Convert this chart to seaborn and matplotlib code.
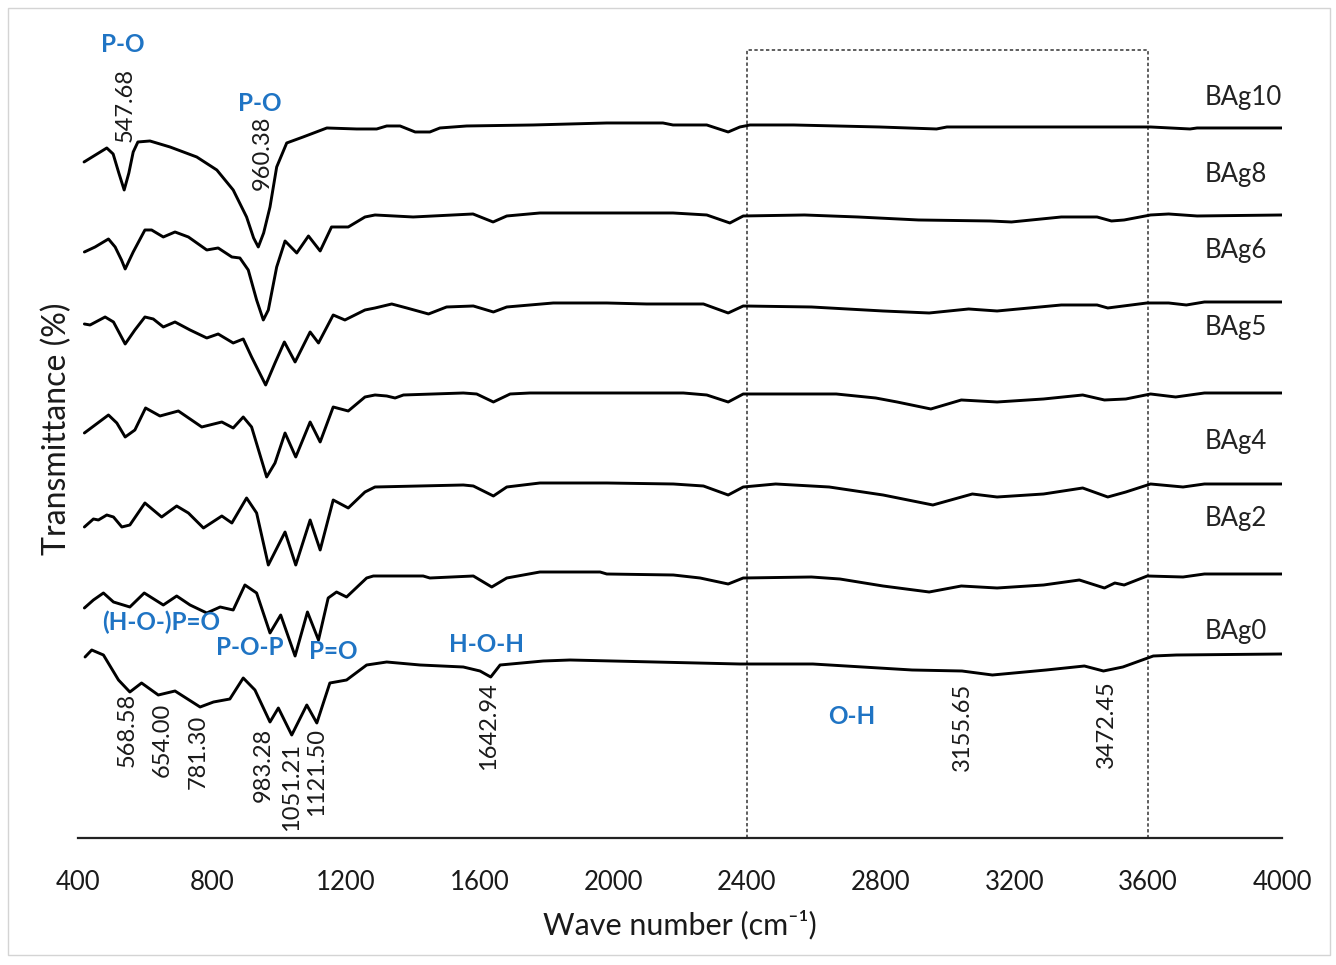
import matplotlib
matplotlib.use("Agg")
import matplotlib.pyplot as plt
from matplotlib.patches import Rectangle
import seaborn as sns
import pandas as pd

# ---------------- data (wavenumber cm-1, transmittance a.u., offset spectra) ----------------
samples = ["BAg10", "BAg8", "BAg6", "BAg5", "BAg4", "BAg2", "BAg0"]

bag10_wn = [418, 486, 505, 522, 538, 552, 565, 579, 615, 675, 755, 815, 864, 904, 925, 939, 955, 974, 994,
            1024, 1073, 1144, 1233, 1293, 1323, 1363, 1408, 1452, 1482, 1562, 1761, 1981, 2070, 2149,
            2179, 2280, 2344, 2379, 2409, 2540, 2796, 2967, 2998, 3266, 3607, 3725, 3746, 4000]
bag10_t = [676, 690, 684, 665, 648, 665, 686, 696, 697, 691, 681, 668, 648, 621, 600, 591, 605, 631, 671,
           695, 701, 710, 709, 709, 712, 712, 706, 706, 710, 712, 713, 715, 715, 715,
           713, 713, 706, 711, 713, 713, 711, 709, 711, 711, 711, 709, 710, 710]

bag8_wn = [419, 451, 491, 511, 530, 541, 565, 600, 620, 655, 690, 730, 785, 819, 860, 884, 909, 934, 954,
           969, 994, 1019, 1054, 1089, 1124, 1158, 1208, 1258, 1288, 1402, 1581, 1641, 1682, 1781, 2179,
           2280, 2349, 2389, 2572, 2732, 2913, 3127, 3191, 3340, 3447, 3490, 3528, 3607, 3661, 3746, 4000]
bag8_t = [586, 591, 599, 591, 578, 569, 586, 608, 608, 601, 606, 601, 588, 590, 581, 580, 568, 538, 518,
          528, 571, 597, 585, 602, 587, 611, 611, 621, 623, 621, 624, 616, 622, 625, 625,
          623, 615, 622, 623, 621, 618, 617, 616, 621, 621, 617, 618, 623, 624, 622, 623]

bag6_wn = [419, 436, 481, 506, 541, 570, 600, 625, 655, 690, 735, 785, 819, 864, 894, 919, 961, 989, 1017,
           1049, 1094, 1119, 1163, 1198, 1258, 1288, 1338, 1383, 1448, 1502, 1582, 1642, 1682, 1821, 1981,
           2100, 2270, 2344, 2389, 2593, 2807, 2945, 3063, 3148, 3340, 3447, 3479, 3596, 3661, 3714, 3768, 4000]
bag6_t = [514, 513, 521, 516, 494, 508, 521, 519, 511, 516, 508, 500, 504, 495, 499, 481, 453, 475, 496,
          476, 506, 495, 523, 518, 528, 530, 534, 530, 524, 531, 532, 526, 531, 535, 535,
          534, 534, 525, 532, 531, 527, 525, 529, 527, 533, 533, 530, 535, 535, 533, 536, 536]

bag5_wn = [419, 451, 491, 516, 541, 570, 602, 645, 700, 770, 830, 864, 894, 919, 964, 989, 1019, 1051,
           1094, 1124, 1163, 1208, 1258, 1288, 1323, 1348, 1373, 1552, 1592, 1642, 1692, 1751, 2210, 2280,
           2344, 2389, 2667, 2785, 2849, 2950, 3041, 3148, 3287, 3404, 3469, 3533, 3607, 3682, 3768, 4000]
bag5_t = [405, 413, 423, 415, 401, 408, 430, 422, 427, 411, 416, 410, 421, 411, 361, 375, 405, 381,
          416, 396, 431, 427, 441, 443, 442, 440, 443, 445, 444, 436, 444, 445, 445, 443,
          436, 444, 444, 440, 436, 429, 438, 436, 439, 443, 438, 439, 444, 441, 445, 445]

bag4_wn = [419, 446, 461, 486, 506, 531, 555, 600, 650, 695, 730, 775, 830, 860, 904, 934, 969, 1019, 1051,
           1094, 1124, 1163, 1208, 1258, 1288, 1552, 1582, 1642, 1682, 1781, 1981, 2180, 2270, 2344, 2389,
           2486, 2646, 2807, 2956, 3074, 3148, 3287, 3404, 3479, 3533, 3607, 3704, 3768, 4000]
bag4_t = [311, 319, 318, 323, 321, 311, 313, 335, 321, 332, 325, 310, 322, 315, 340, 325, 273, 306, 273,
          318, 288, 338, 330, 346, 351, 353, 352, 342, 351, 355, 355, 354, 352, 343, 351,
          354, 351, 343, 333, 344, 341, 344, 350, 341, 346, 354, 351, 354, 354]

bag2_wn = [419, 446, 476, 506, 555, 598, 655, 695, 735, 785, 825, 864, 899, 934, 974, 1006, 1049, 1086,
           1119, 1148, 1173, 1203, 1263, 1283, 1432, 1452, 1582, 1637, 1682, 1781, 1961, 1981, 2180, 2260,
           2344, 2389, 2593, 2678, 2807, 2945, 3041, 3148, 3287, 3394, 3469, 3500, 3528, 3597, 3704, 3768, 4000]
bag2_t = [230, 238, 245, 236, 231, 245, 233, 242, 233, 225, 231, 228, 253, 245, 205, 223, 182, 226,
          198, 240, 246, 241, 260, 262, 262, 260, 262, 251, 260, 266, 266, 264, 263, 260,
          254, 260, 261, 259, 252, 246, 252, 250, 253, 258, 250, 255, 253, 262, 261, 264, 264]

bag0_wn = [421, 441, 476, 521, 555, 590, 640, 690, 765, 805, 854, 894, 929, 974, 999, 1039, 1084, 1114,
           1153, 1203, 1263, 1323, 1423, 1552, 1602, 1634, 1662, 1791, 1871, 2379, 2597, 2746, 2894, 3043,
           3134, 3295, 3409, 3466, 3524, 3615, 3684, 4000]
bag0_t = [181, 188, 183, 158, 146, 155, 143, 147, 131, 136, 139, 160, 148, 116, 130, 103, 133, 115,
          155, 158, 173, 176, 173, 171, 167, 161, 173, 177, 178, 174, 174, 171, 168, 167,
          163, 168, 172, 167, 171, 182, 183, 184]

# sample name labels
sample_label_x = 3770
sample_label_y = [740, 663, 587, 510, 396, 319, 206]

# band assignment labels (blue)
band_text = ["P-O", "P-O", "(H-O-)P=O", "P-O-P", "P=O", "H-O-H", "O-H"]
band_x = [535, 944, 648, 914, 1162, 1620, 2714]
band_y = [793, 734, 216, 190, 186, 193, 122]

# peak position labels above the top spectrum (anchored at their lower end)
top_peak_text = ["547.68", "960.38"]
top_peak_x = [540, 950]
top_peak_y = [696, 648]

# peak position labels below the bottom spectrum (anchored at their upper end)
low_peak_text = ["568.58", "654.00", "781.30", "983.28", "1051.21", "1121.50", "1642.94", "3155.65", "3472.45"]
low_peak_x = [548, 653, 760, 954, 1037, 1113, 1627, 3043, 3474]
low_peak_y = [145, 135, 123, 110, 95, 110, 156, 155, 158]

# O-H region box
box_x = [2400, 3600]
box_top = 788

x_ticks = [400, 800, 1200, 1600, 2000, 2400, 2800, 3200, 3600, 4000]

# ---------------- build table ----------------
series_wn = [bag10_wn, bag8_wn, bag6_wn, bag5_wn, bag4_wn, bag2_wn, bag0_wn]
series_t = [bag10_t, bag8_t, bag6_t, bag5_t, bag4_t, bag2_t, bag0_t]
frames = []
for name, w, t in zip(samples, series_wn, series_t):
    frames.append(pd.DataFrame({"sample": name, "wn": w, "T": t}))
df = pd.concat(frames, ignore_index=True)

# ---------------- style ----------------
sns.set_theme(style="white")
plt.rcParams["font.family"] = ["Lato", "DejaVu Sans"]

fig = plt.figure(figsize=(13.36, 9.65), dpi=100)
ax = fig.add_axes([0.0584, 0.1316, 0.9012, 0.8477])

sns.lineplot(data=df, x="wn", y="T", hue="sample", palette={s: "black" for s in samples},
             estimator=None, sort=False, legend=False, linewidth=2.1, ax=ax)
for ln in ax.get_lines():
    ln.set_solid_joinstyle("round")
    ln.set_solid_capstyle("round")

ax.set_xlim(400, 4000)
ax.set_ylim(0, 818)
ax.set_xticks(x_ticks)
ax.set_xticklabels([str(v) for v in x_ticks])
ax.set_yticks([])
for s in ["left", "top", "right"]:
    ax.spines[s].set_visible(False)
ax.spines["bottom"].set_linewidth(1.6)
ax.spines["bottom"].set_color("#222222")
ax.tick_params(axis="x", direction="inout", length=16, width=1.4, color="#222222",
               labelsize=18.5, labelcolor="#1a1a1a", pad=15)

ax.set_xlabel("Wave number (cm\u207b\u00b9)", fontsize=22, color="#1a1a1a", labelpad=11)
ax.set_ylabel("Transmittance (%)", fontsize=23, color="#1a1a1a", labelpad=4)

# dashed O-H region box
ax.plot([box_x[0], box_x[0], box_x[1], box_x[1]], [0, box_top, box_top, 0],
        linestyle=(0, (2.2, 1.6)), color="#333333", linewidth=1.1, zorder=1)

# sample labels
for name, y in zip(samples, sample_label_y):
    ax.text(sample_label_x, y, name, fontsize=18.5, color="#222222", ha="left", va="center")

# band assignment labels
for txt, x, y in zip(band_text, band_x, band_y):
    ax.text(x, y, txt, fontsize=17.5, fontweight="bold", color="#1f74c4", ha="center", va="center")

for txt, x, y in zip(top_peak_text, top_peak_x, top_peak_y):
    ax.text(x, y, txt, fontsize=17, color="#1a1a1a", rotation=90, ha="center", va="bottom")

for txt, x, y in zip(low_peak_text, low_peak_x, low_peak_y):
    ax.text(x, y, txt, fontsize=17, color="#1a1a1a", rotation=90, ha="center", va="top")

# light frame around the figure
fig.patches.append(Rectangle((0.006, 0.0104), 0.9895, 0.9813, transform=fig.transFigure,
                             fill=False, edgecolor="#d4d4d4", linewidth=1.0))

fig.savefig("out.png", dpi=100)
